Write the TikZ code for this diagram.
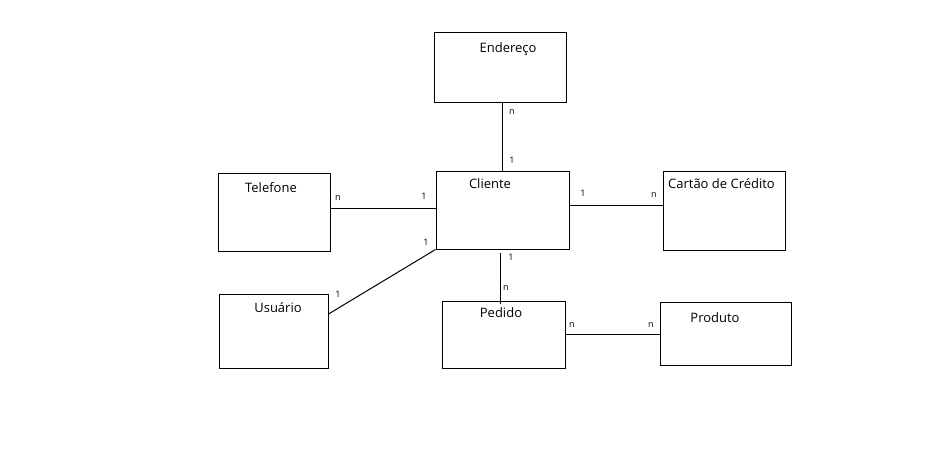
\documentclass[tikz,border=0pt]{standalone}
\usepackage{fontspec}
\setmainfont{Open Sans}
\begin{document}
\begin{tikzpicture}[x=1pt,y=-1pt,
  ent/.style={draw=black,line width=1pt,rectangle,inner sep=0pt},
  ttl/.style={anchor=base,inner sep=0pt,font=\fontsize{13}{15}\selectfont},
  card/.style={inner sep=0pt,font=\fontsize{9}{10}\selectfont},
  conn/.style={line width=1pt,black}]
\useasboundingbox[fill=white] (0,0) rectangle (944,472);
% entities
\node[ent,minimum width=132pt,minimum height=70pt] (end) at (500,67) {};
\node[ent,minimum width=133pt,minimum height=78pt] (cli) at (502.5,210) {};
\node[ent,minimum width=122pt,minimum height=79pt] (car) at (724,210.5) {};
\node[ent,minimum width=112pt,minimum height=78pt] (tel) at (274,212) {};
\node[ent,minimum width=109pt,minimum height=74pt] (usu) at (273.5,331) {};
\node[ent,minimum width=123pt,minimum height=67pt] (ped) at (503.5,334.5) {};
\node[ent,minimum width=131pt,minimum height=63pt] (pro) at (725.5,333.5) {};
% titles
\node[ttl] (tend) at (508,52) {Endereço};
\node[ttl] (tcli) at (490,188) {Cliente};
\node[ttl] (tcar) at (721.5,188) {Cartão de Crédito};
\node[ttl] (ttel) at (271,192) {Telefone};
\node[ttl] (tusu) at (278,312) {Usuário};
\node[ttl] (tped) at (501,317) {Pedido};
\node[ttl] (tpro) at (715,322) {Produto};
% connectors
\draw[conn] (cli.north |- end.south) -- (cli.north);
\draw[conn] ([yshift=4pt]tel.east) -- ([yshift=4pt]tel.east -| cli.west);
\draw[conn] ([yshift=5.5pt]car.west -| cli.east) -- ([yshift=5.5pt]car.west);
\draw[conn] ([yshift=17pt]usu.east) -- (cli.south west);
\draw[conn] ([xshift=-2.5pt,yshift=-3pt]cli.south) -- ([xshift=-2.5pt,yshift=-3pt]cli.south |- ped.north);
\draw[conn] (ped.east) -- (ped.east -| pro.west);
% cardinalities
\node[card] (c1) at (512,112) {n};
\node[card] (c2) at (512,160) {1};
\node[card] (c3) at (338,198) {n};
\node[card] (c4) at (424,196) {1};
\node[card] (c5) at (583,193) {1};
\node[card] (c6) at (654,195) {n};
\node[card] (c7) at (338,294) {1};
\node[card] (c8) at (426,242) {1};
\node[card] (c9) at (511,257) {1};
\node[card] (c10) at (506,288) {n};
\node[card] (c11) at (572,325) {n};
\node[card] (c12) at (651,325) {n};
\end{tikzpicture}
\end{document}
